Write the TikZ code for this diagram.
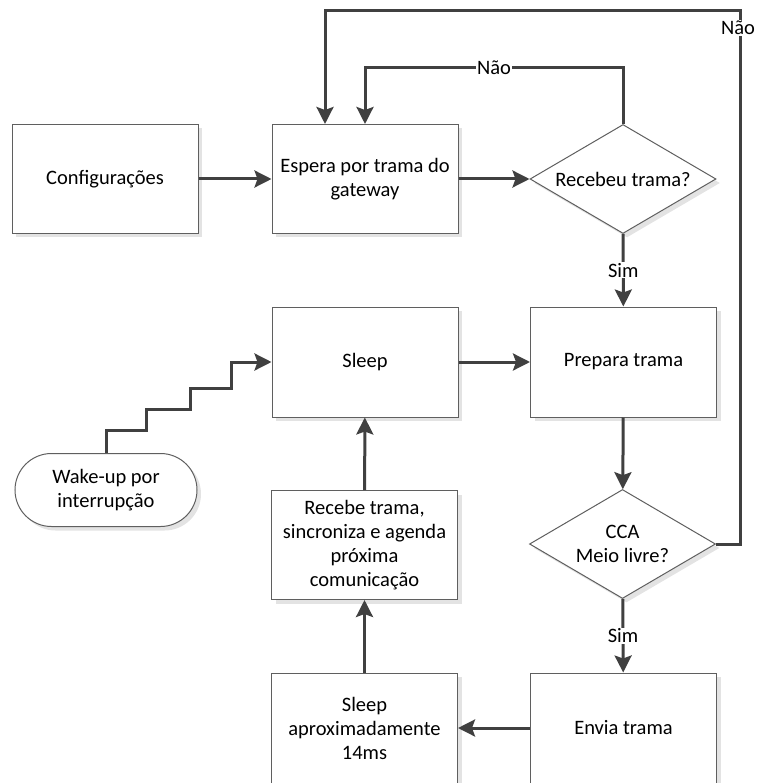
\documentclass[tikz,border=0pt]{standalone}
\usepackage{fontspec}
\setmainfont{Carlito}
\usepackage{tikz}
\usetikzlibrary{positioning,arrows.meta,shapes.geometric,shapes.misc,shadows}
\definecolor{lineclr}{HTML}{404040}
\definecolor{edgeclr}{HTML}{5F5F5F}
\tikzset{
  >={Stealth[length=17pt, width=17pt, inset=3pt]},
  shade/.style={drop shadow={shadow xshift=4pt, shadow yshift=-4pt, fill=gray!22, opacity=1}},
  box/.style={draw=edgeclr, line width=1pt, fill=white, shade, align=center,
              font=\fontsize{20.5}{24}\selectfont, minimum width=186pt, minimum height=#1,
              inner sep=3pt},
  box/.default=109pt,
  dec/.style={draw=edgeclr, line width=1pt, fill=white, shade, diamond, aspect=1.72,
              align=center, font=\fontsize{20.5}{24}\selectfont, inner sep=0pt,
              minimum width=186pt, minimum height=109pt},
  term/.style={draw=edgeclr, line width=1pt, fill=white, shade, rounded rectangle,
               align=center, font=\fontsize{20.5}{24}\selectfont, minimum width=186pt,
               minimum height=73pt, inner sep=2pt},
  flow/.style={->, line width=3pt, draw=lineclr},
  lab/.style={font=\fontsize{20.5}{24}\selectfont, fill=white, inner sep=1pt}
}

\begin{document}
\begin{tikzpicture}[x=1pt, y=-1pt]
\useasboundingbox (0,0) rectangle (756,783);
\node[box] (config) at (105,179) {Configurações};
\node[box] (espera) at (365,179) {Espera por trama do\\ gateway};
\node[dec] (recebeu) at (623,179) {Recebeu trama?};
\node[box=110pt] (sleep) at (365,362) {Sleep};
\node[box=110pt] (prepara) at (623.5,362) {Prepara trama};
\node[term] (wake) at (106,490) {Wake-up por\\ interrupção};
\node[box] (recebe) at (364.5,545) {Recebe trama,\\ sincroniza e agenda\\ próxima\\ comunicação};
\node[dec] (cca) at (622.5,544) {CCA\\ Meio livre?};
\node[box=110pt] (envia) at (623.5,728) {Envia trama};
\node[box=110pt] (sleepaprox) at (364.5,728) {Sleep\\ aproximadamente\\ 14ms};
\coordinate (topright) at (740,11);
\draw[flow] (config) -- (espera);
\draw[flow] (espera) -- (recebeu);
\draw[flow] (recebeu.north) -- ++(0,-56) -| node[lab, pos=0.25]{Não} (espera.north);
\draw[flow] (recebeu) -- node[lab]{Sim} (prepara);
\draw[flow] (sleep) -- (prepara);
\draw[flow] (prepara) -- (cca);
\draw[flow] (cca.east) -| (topright) -| ([xshift=-40pt]espera.north);
\node[lab] (nao) at (738,28) {Não};
\draw[flow] (cca) -- node[lab]{Sim} (envia);
\draw[flow] (envia) -- (sleepaprox);
\draw[flow] (sleepaprox) -- (recebe);
\draw[flow] (recebe) -- (sleep);
\draw[flow] (wake.north) |- ++(40,-23) |- ++(44,-21) |- ++(41,-21) |- (sleep.west);
\end{tikzpicture}
\end{document}
